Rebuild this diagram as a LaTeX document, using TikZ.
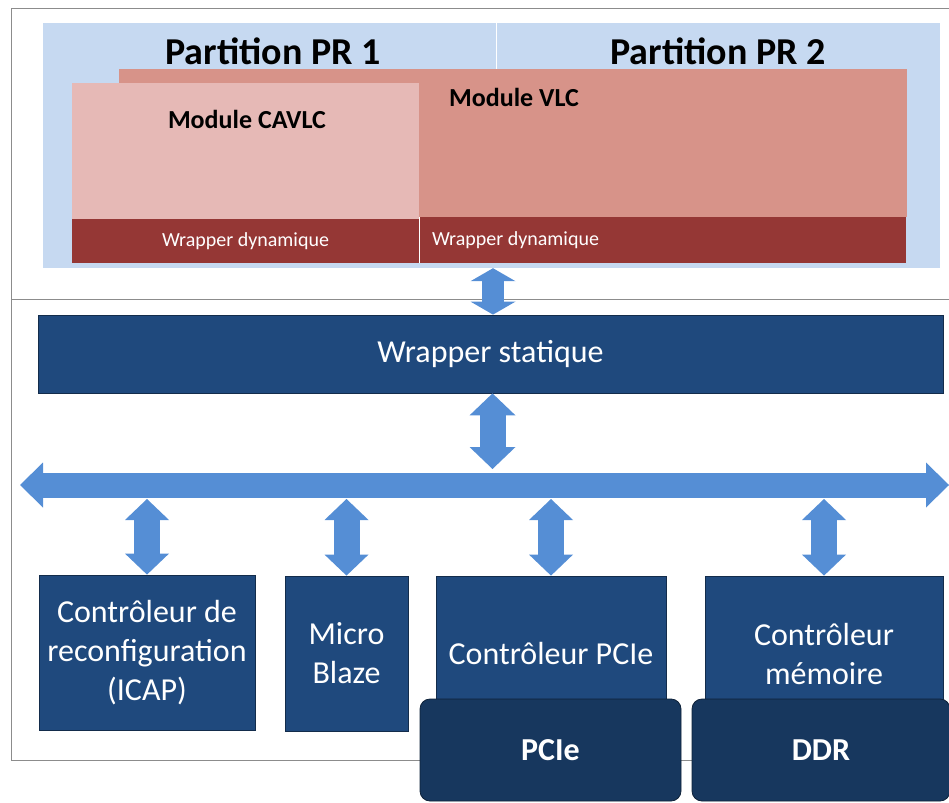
\documentclass[tikz,border=0pt]{standalone}
\usepackage{fontspec}
\setmainfont{Carlito}
\usetikzlibrary{arrows.meta,positioning}

\definecolor{prblue}{HTML}{C6D9F1}
\definecolor{vlcred}{HTML}{D79389}
\definecolor{cavlcpink}{HTML}{E6B9B6}
\definecolor{wrapred}{HTML}{953735}
\definecolor{blkblue}{HTML}{1F497D}
\definecolor{ddrblue}{HTML}{17375E}
\definecolor{arrblue}{HTML}{558ED5}

\begin{document}
\begin{tikzpicture}[x=1pt,y=-1pt,
  bloc/.style={fill=blkblue,draw=blkblue!60!black,line width=0.8pt,text=white,
    align=center,inner sep=0pt,font=\fontsize{32}{39}\selectfont},
  memoire/.style={bloc,fill=ddrblue,draw=ddrblue!60!black,rounded corners=10pt,
    font=\fontsize{32}{39}\selectfont\bfseries},
  wrapdyn/.style={fill=wrapred,inner sep=0pt},
  wraptxt/.style={text=white,inner sep=0pt,font=\fontsize{20}{24}\selectfont},
  modlbl/.style={inner sep=0pt,font=\fontsize{26}{30}\selectfont\bfseries},
  partlbl/.style={inner sep=0pt,font=\fontsize{38}{42}\selectfont\bfseries},
  fleche/.style n args={3}{arrblue,line width=#1,
    {Triangle[length=#2,width=#3,line width=0pt]}-{Triangle[length=#2,width=#3,line width=0pt]}}]

  \useasboundingbox (0,0) rectangle (949,802);

  % cadre du FPGA
  \draw[gray!90,line width=0.8pt] (950,8) -- (11,8) -- (11,760) -- (950,760);
  \draw[gray!90,line width=0.8pt] (11,299) -- (950,299);

  % zone reconfigurable
  \node[fill=prblue,minimum width=897pt,minimum height=245pt,inner sep=0pt] (zonepr) at (491.5,145.5) {};
  \draw[white,line width=0.8pt] (496,23) -- (496,69);
  \node[partlbl] (pr1) at (273,51) {Partition PR 1};
  \node[partlbl] (pr2) at (718,51) {Partition PR 2};

  % modules
  \node[fill=vlcred,minimum width=788pt,minimum height=148pt,inner sep=0pt] (vlc) at (513,143) {};
  \node[fill=cavlcpink,minimum width=347pt,minimum height=136pt,inner sep=0pt] (cavlc) at (245.5,151) {};
  \node[modlbl,anchor=west] (vlclbl) at (449,97) {Module VLC};
  \node[modlbl] (cavlclbl) at (247,119) {Module CAVLC};

  \node[wrapdyn,minimum width=347pt,minimum height=44pt] (wdyn1) at (245.5,241) {};
  \node[wrapdyn,minimum width=486pt,minimum height=46pt] (wdyn2) at (663,240) {};
  \draw[white,line width=1pt] (419.5,217) -- (419.5,263);
  \node[wraptxt] at (wdyn1) {Wrapper dynamique};
  \node[wraptxt,right=12pt of wdyn2.west] {Wrapper dynamique};

  % partie statique
  \node[bloc,minimum width=905pt,minimum height=78pt] (wstat) at (490.5,354) {Wrapper statique};

  \coordinate (busL) at (20,485);
  \coordinate (busR) at (949,485);
  \coordinate (busH) at (0,469);
  \coordinate (busB) at (0,499);

  \node[bloc,minimum width=216pt,minimum height=155pt] (icap) at (147,652.5) {Contrôleur de\\reconfiguration\\(ICAP)};
  \node[bloc,minimum width=123pt,minimum height=155pt] (micro) at (346.5,653.5) {Micro\\Blaze};
  \node[bloc,minimum width=230pt,minimum height=155pt] (ctrlpcie) at (551,653.5) {Contrôleur PCIe};
  \node[bloc,minimum width=238pt,minimum height=155pt] (ctrlmem) at (824,653.5) {Contrôleur\\mémoire};

  \node[memoire,minimum width=261pt,minimum height=102pt] (pcie) at (550.5,750) {PCIe};
  \node[memoire,minimum width=258pt,minimum height=102pt] (ddr) at (821,750) {DDR};

  % fleches
  \draw[fleche={22pt}{13pt}{45pt}] ([xshift=1.5pt]zonepr.south) -- ([xshift=1.5pt]zonepr.south |- wstat.north);
  \draw[fleche={26pt}{22pt}{46pt}] ([xshift=2pt]wstat.south) -- ([xshift=2pt]wstat.south |- busH);
  \draw[fleche={25pt}{23pt}{45pt}] (busL) -- (busR);
  \foreach \b in {icap,micro,ctrlpcie,ctrlmem}
    \draw[fleche={26pt}{21pt}{44pt}] (\b.north |- busB) -- (\b.north);
\end{tikzpicture}
\end{document}
